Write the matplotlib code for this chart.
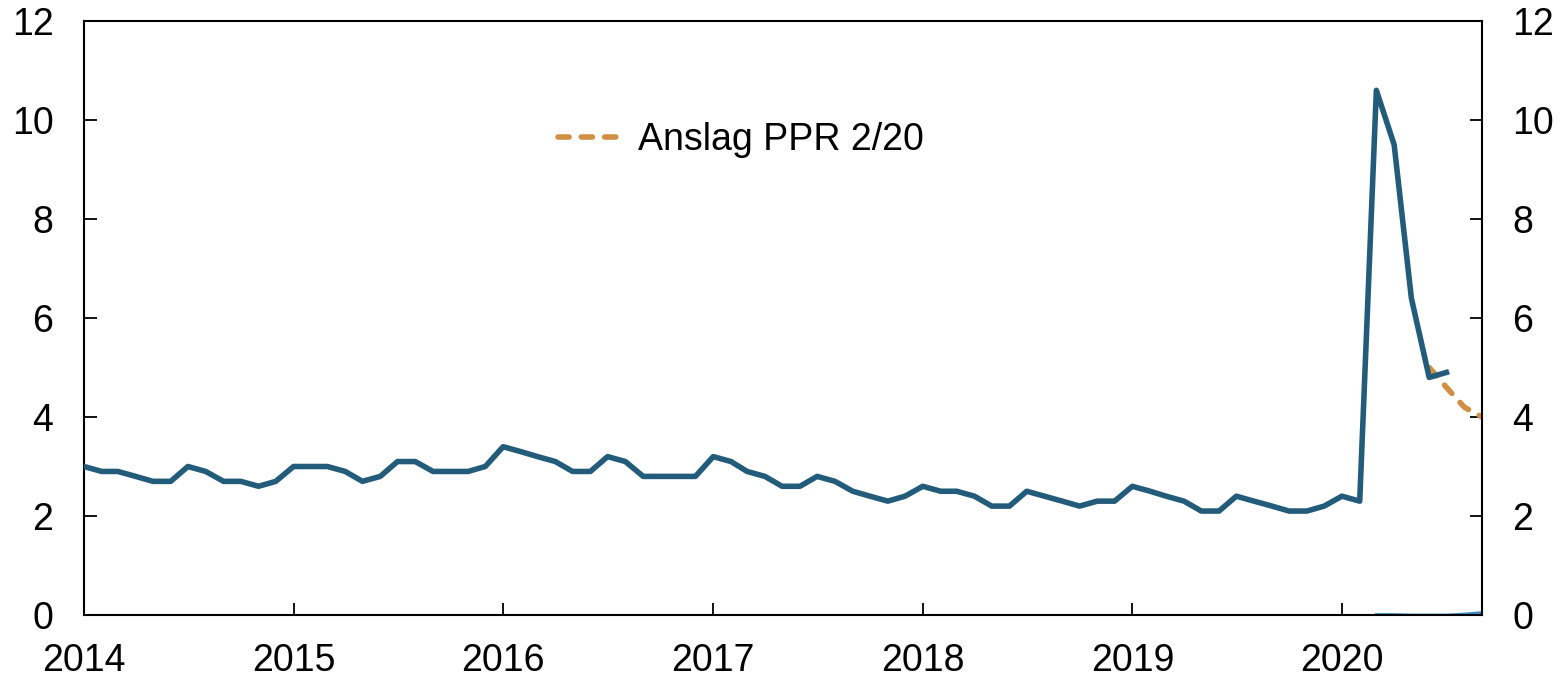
import pandas as pd
import matplotlib.pyplot as plt
import matplotlib.dates as mdates

plt.rcParams['font.family'] = ['Liberation Sans', 'DejaVu Sans']

# Monthly values, Jan 2014 - Jul 2020
unemployment = [
    3.0, 2.9, 2.9, 2.8, 2.7, 2.7, 3.0, 2.9, 2.7, 2.7, 2.6, 2.7,   # 2014
    3.0, 3.0, 3.0, 2.9, 2.7, 2.8, 3.1, 3.1, 2.9, 2.9, 2.9, 3.0,   # 2015
    3.4, 3.3, 3.2, 3.1, 2.9, 2.9, 3.2, 3.1, 2.8, 2.8, 2.8, 2.8,   # 2016
    3.2, 3.1, 2.9, 2.8, 2.6, 2.6, 2.8, 2.7, 2.5, 2.4, 2.3, 2.4,   # 2017
    2.6, 2.5, 2.5, 2.4, 2.2, 2.2, 2.5, 2.4, 2.3, 2.2, 2.3, 2.3,   # 2018
    2.6, 2.5, 2.4, 2.3, 2.1, 2.1, 2.4, 2.3, 2.2, 2.1, 2.1, 2.2,   # 2019
    2.4, 2.3, 10.6, 9.5, 6.4, 4.8, 4.9,                           # 2020
]
dates = pd.date_range("2014-01-01", periods=len(unemployment), freq="MS")

# Forecast PPR 2/20, Jun - Sep 2020
forecast = [5.0, 4.6, 4.2, 4.0]
forecast_dates = pd.date_range("2020-06-01", periods=len(forecast), freq="MS")

# faint series near zero, Mar - Sep 2020
other = [0.01, 0.01, 0.0, 0.0, 0.0, 0.02, 0.05]
other_dates = pd.date_range("2020-03-01", periods=len(other), freq="MS")

years = list(range(2014, 2021))
yticks = [0, 2, 4, 6, 8, 10, 12]

fig = plt.figure(figsize=(15.65, 6.76), dpi=100)
ax = fig.add_axes([84 / 1565, 61 / 676, 1398 / 1565, 594 / 676])

ax.plot(other_dates, other, color="#3d8fc8", lw=2, zorder=1)
ax.plot(dates, unemployment, color="#235b7a", lw=4, zorder=3)
ax.plot(forecast_dates, forecast, color="#d08f43", lw=4, ls=(0, (2.0, 2.2)),
        dash_capstyle="round", label="Anslag PPR 2/20", zorder=2)

ax.set_xlim(pd.Timestamp("2014-01-01"), pd.Timestamp("2020-09-01"))
ax.set_ylim(0, 12)
ax.set_xticks([pd.Timestamp(f"{y}-01-01") for y in years])
ax.xaxis.set_major_formatter(mdates.DateFormatter("%Y"))
ax.set_yticks(yticks)

ax.tick_params(axis="both", direction="in", length=9, width=1.3,
               labelsize=27, pad=22)
ax.tick_params(axis="x", pad=20)
ax.tick_params(axis="y", right=True, labelright=True)
for s in ax.spines.values():
    s.set_linewidth(1.5)

ax.legend(loc="center left", bbox_to_anchor=(0.339, 0.80), frameon=False,
          fontsize=27, handlelength=1.8, handletextpad=0.33,
          borderpad=0, borderaxespad=0)

plt.savefig("out.png", dpi=100)
